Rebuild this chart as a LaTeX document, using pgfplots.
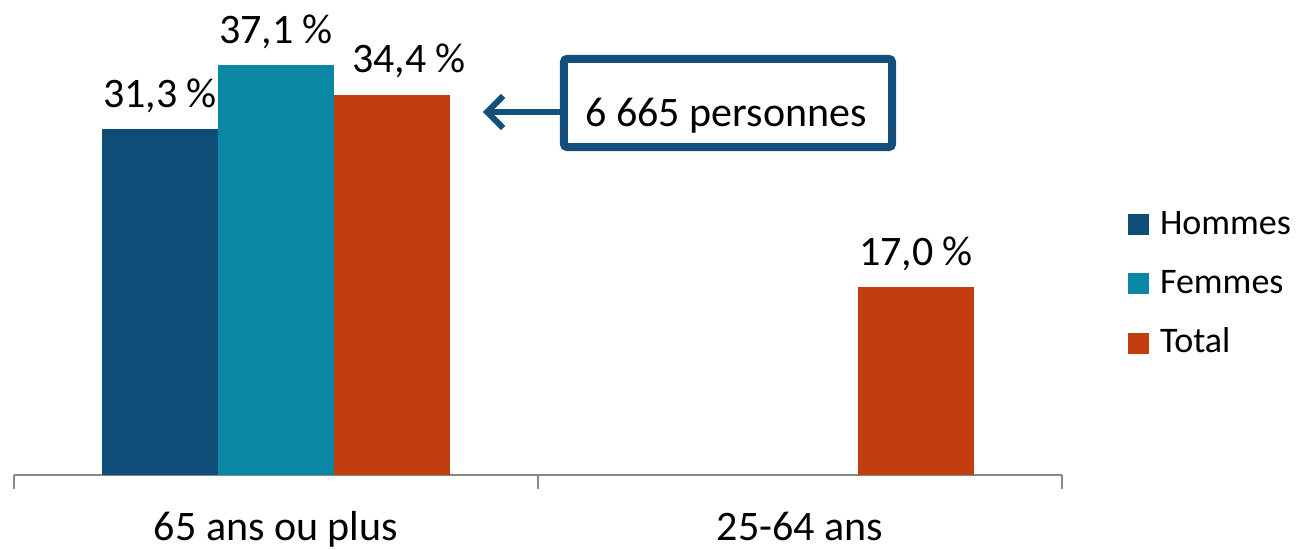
\documentclass[border=0pt]{standalone}
\usepackage{pgfplots}
\pgfplotsset{compat=1.18}
\usepackage{fontspec}
\setmainfont{Carlito}
\usetikzlibrary{arrows.meta}
\definecolor{hommes}{RGB}{15,77,120}
\definecolor{femmes}{RGB}{10,136,163}
\definecolor{total}{RGB}{194,62,14}
\definecolor{callout}{RGB}{18,79,124}
\definecolor{axisgray}{RGB}{137,137,137}
\newcommand{\bigfont}{\fontsize{21}{25}\selectfont}
\begin{document}
\begin{tikzpicture}
\begin{axis}[
    scale only axis, width=524pt, height=237.5pt,
    xmin=-0.5, xmax=1.5, ymin=0, ymax=43,
    clip=false,
    axis x line*=bottom, axis y line=none,
    x axis line style={draw=axisgray, line width=1pt},
    ybar, bar width=58pt,
    xtick={0,1}, xticklabels={65 ans ou plus, 25-64 ans},
    major tick length=0pt,
    extra x ticks={-0.5,0.5,1.5}, extra x tick labels={},
    extra x tick style={major tick length=7pt, tick align=outside,
        tick style={draw=axisgray, line width=1pt}},
    xticklabel style={font=\bigfont, anchor=base, yshift=-33pt, inner sep=0pt},
    /pgf/number format/assume math mode=true,
    nodes near coords={\pgfmathprintnumber[fixed,fixed zerofill,precision=1,use comma]{\pgfplotspointmeta}~\%},
    every node near coord/.append style={font=\bigfont, anchor=base, yshift=11pt, inner sep=0pt, text=black},
    legend image code/.code={\fill[#1] (0pt,-6.5pt) rectangle (10.5pt,4pt);},
    legend cell align=left,
    legend style={draw=none, fill=none, inner sep=0pt, outer sep=0pt,
        at={(rel axis cs:1.063,0.4064)}, anchor=west,
        font=\fontsize{18}{21}\selectfont, row sep=17.2pt,
        nodes={inner sep=0pt, text height=12pt, text depth=0pt},
        /tikz/every odd column/.append style={column sep=5.5pt}},
]
\addplot[fill=hommes, draw=none, bar shift=-58pt] coordinates {(0,31.3)};
\addplot[fill=femmes, draw=none, bar shift=0pt] coordinates {(0,37.1)};
\addplot[fill=total, draw=none, bar shift=58pt,
    every node near coord/.append style={xshift=8.5pt}] coordinates {(0,34.4)};
\addplot[fill=total, draw=none, bar shift=58pt, forget plot] coordinates {(1,17.0)};
\legend{Hommes, Femmes, Total}
\draw[callout, line width=4pt, rounded corners=1.5pt]
    (axis cs:0.5496,37.66) rectangle (axis cs:1.1756,29.69);
\draw[callout, line width=3pt, -{Straight Barb[length=8pt,width=16pt]}]
    (axis cs:0.5496,32.86) -- (axis cs:0.395,32.86);
\node[anchor=base, font=\bigfont, inner sep=0pt] at (axis cs:0.8588,31.59) {6 665 personnes};
\coordinate (O) at (rel axis cs:0,0);
\coordinate (T) at (rel axis cs:1,1);
\end{axis}
\pgfresetboundingbox
\path ([shift={(-7pt,-37.5pt)}]O) rectangle ([shift={(117.5pt,0pt)}]T);
\end{tikzpicture}
\end{document}
